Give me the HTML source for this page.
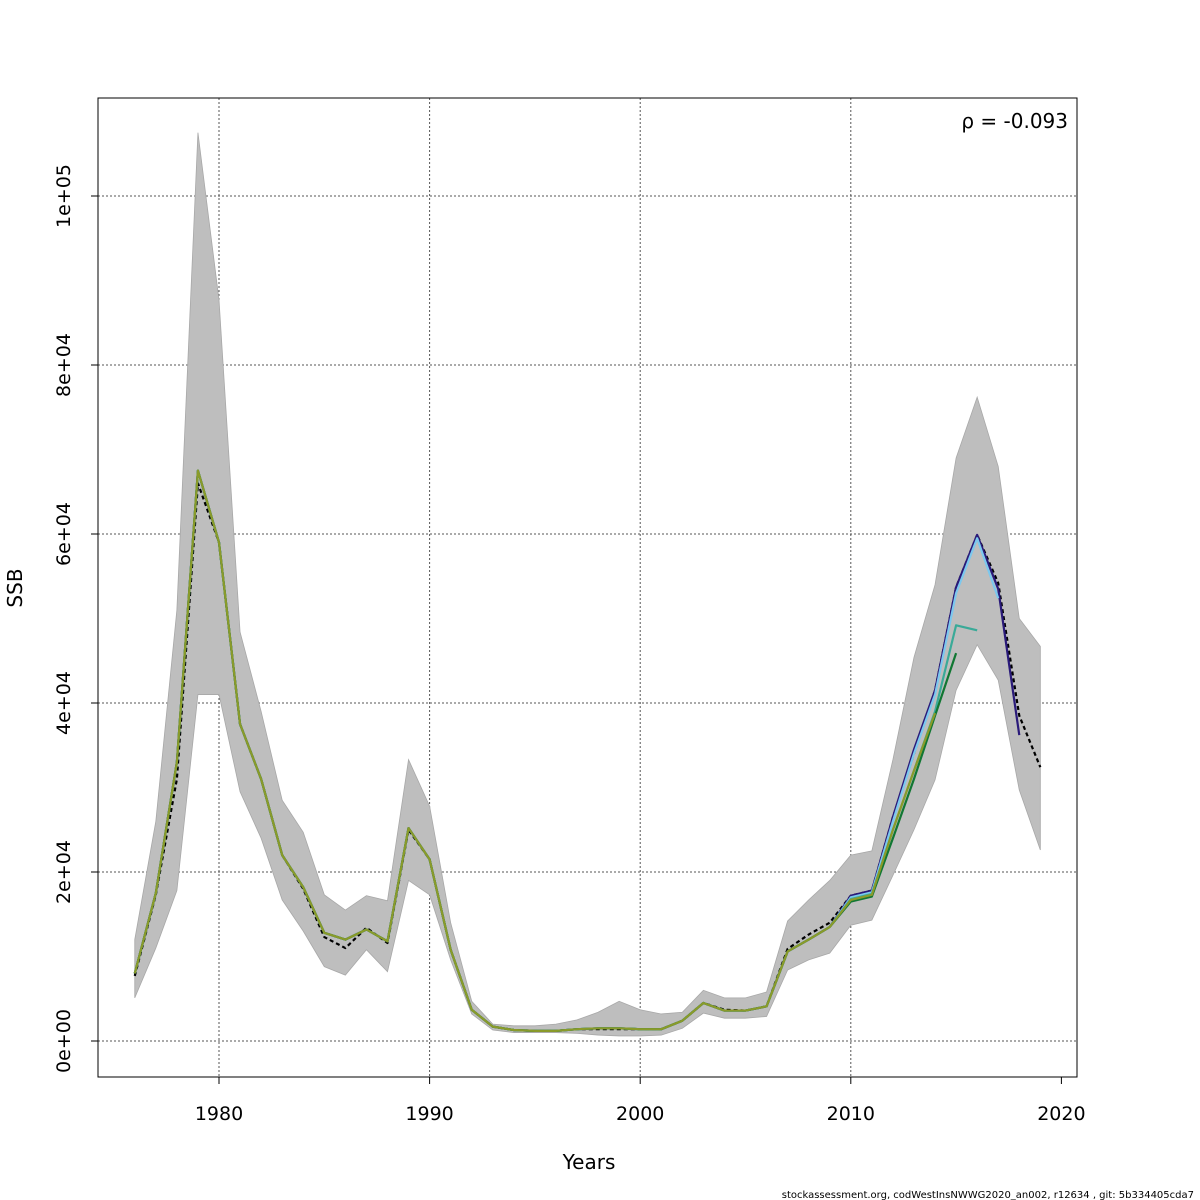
<!DOCTYPE html>
<html><head><meta charset="utf-8"><style>
body{margin:0;background:#fff}
svg{display:block;font-family:"DejaVu Sans","Liberation Sans",sans-serif}
</style></head><body>
<svg id="chart" width="1200" height="1200" viewBox="0 0 1200 1200">
<rect width="1200" height="1200" fill="#fff"/>
<g id="grid"></g>
<g id="band"></g>
<g id="lines"></g>
<rect x="98" y="98" width="979" height="979" fill="none" stroke="#000" stroke-width="1"/>
<g id="axes"></g>
<text x="1068" y="128" text-anchor="end" font-size="20">ρ = -0.093</text>
<text x="589" y="1169" text-anchor="middle" font-size="20">Years</text>
<text transform="translate(22,588) rotate(-90)" text-anchor="middle" font-size="20">SSB</text>
<text x="1194" y="1198" text-anchor="end" font-size="10">stockassessment.org, codWestInsNWWG2020_an002, r12634 , git: 5b334405cda7</text>
</svg>
<script>
const years=[1976,1977,1978,1979,1980,1981,1982,1983,1984,1985,1986,1987,1988,1989,1990,1991,1992,1993,1994,1995,1996,1997,1998,1999,2000,2001,2002,2003,2004,2005,2006,2007,2008,2009,2010,2011,2012,2013,2014,2015,2016,2017,2018,2019];
const ssb=[7.7,17.3,31,66,59,37.5,31,22,18,12.3,11,13.4,11.6,25,21.5,10.8,3.7,1.7,1.3,1.2,1.2,1.4,1.4,1.4,1.4,1.4,2.4,4.5,3.7,3.6,4.1,10.9,12.6,14,17.2,17.8,26.5,34,41.5,53.7,59.9,54.2,38.5,32.4];
const upper=[12,26,51,107.5,87.7,48.4,39,28.5,24.7,17.3,15.5,17.2,16.6,33.3,27.8,14,4.7,2,1.8,1.8,2,2.5,3.4,4.7,3.7,3.2,3.4,6,5.1,5.1,5.8,14.2,16.7,19,22,22.5,33.3,45.4,54,69,76.2,68,50,46.7];
const lower=[5.1,11,17.8,41,41,29.5,24,16.7,13,8.8,7.8,10.8,8.2,19,17.3,9.6,3.2,1.3,1,1,1,0.9,0.7,0.6,0.6,0.7,1.5,3.3,2.7,2.7,2.9,8.4,9.6,10.4,13.7,14.3,19.6,25,30.9,41.5,46.9,42.7,29.7,22.6];
const peelHist=[8,17.5,33,67.5,59,37.5,31,22,18.2,12.8,12,13.2,11.8,25.2,21.5,10.8,3.7,1.7,1.3,1.2,1.2,1.4,1.5,1.5,1.4,1.4,2.4,4.5,3.6,3.6,4.1,10.6,12,13.5];
const peelNavy=[17.2,17.8,26.5,34.5,41.5,53.7,59.9,53.5,36.2];
const peelLightBlue=[17,17.6,26,34,41,53,59.5,52.4];
const peelTeal=[16.8,17.4,25,32,39,49.2,48.6];
const peelGreen=[16.5,17.1,24,31,38.5,45.9];
const peelOlive=[16.7,17.3,25,32,38.8];
const xTicks=[1980,1990,2000,2010,2020];
const yTicks=[0,20,40,60,80,100];
const yTickLabels=["0e+00","2e+04","4e+04","6e+04","8e+04","1e+05"];

const NS="http://www.w3.org/2000/svg";
const X=y=>219+(y-1980)*21.06;
const Y=v=>1041-v*8.45;
function mk(tag,attrs,parent){const e=document.createElementNS(NS,tag);for(const k in attrs)e.setAttribute(k,attrs[k]);parent.appendChild(e);return e;}
const grid=document.getElementById('grid'),axes=document.getElementById('axes'),band=document.getElementById('band'),lines=document.getElementById('lines');
xTicks.forEach(t=>{
  if(t<2020){const g=mk('line',{x1:X(t),x2:X(t),y1:98,y2:1077,stroke:'#555','stroke-dasharray':'2,2','stroke-width':1},grid);
  }
  const tk=mk('line',{x1:X(t),x2:X(t),y1:1077,y2:1084,stroke:'#000'},axes);
  
  const tx=mk('text',{x:X(t),y:1120,'text-anchor':'middle','font-size':19},axes);tx.textContent=t;
  
});
yTicks.forEach((t,i)=>{
  const g=mk('line',{x1:98,x2:1077,y1:Y(t),y2:Y(t),stroke:'#555','stroke-dasharray':'2,2','stroke-width':1},grid);
  
  const tk=mk('line',{x1:91,x2:98,y1:Y(t),y2:Y(t),stroke:'#000'},axes);
  
  const tx=mk('text',{transform:`translate(70,${Y(t)}) rotate(-90)`,'text-anchor':'middle','font-size':19},axes);tx.textContent=yTickLabels[i];
  
});
let pts=years.map((y,i)=>X(y)+','+Y(upper[i]));
pts=pts.concat(years.map((y,i)=>X(y)+','+Y(lower[i])).reverse());
const poly=mk('polygon',{points:pts.join(' '),fill:'#bebebe',stroke:'#a8a8a8','stroke-width':0.8},band);

function line(vals,color,dash,name){
  const p=mk('polyline',{points:vals.map((v,i)=>X(years[i])+','+Y(v)).join(' '),fill:'none',stroke:color,'stroke-width':2.2,'stroke-linejoin':'round'},lines);
  if(dash)p.setAttribute('stroke-dasharray',dash);
  
}
line(ssb,'#000','4,3','ssb-final-line');
line(peelHist.concat(peelNavy),'#2a1a7a',null,'peel-1-line');
line(peelHist.concat(peelLightBlue),'#7cc8ee',null,'peel-2-line');
line(peelHist.concat(peelTeal),'#3aaa98',null,'peel-3-line');
line(peelHist.concat(peelGreen),'#117733',null,'peel-4-line');
line(peelHist.concat(peelOlive),'#8a9a2a',null,'peel-5-line');
</script>
</body></html>
